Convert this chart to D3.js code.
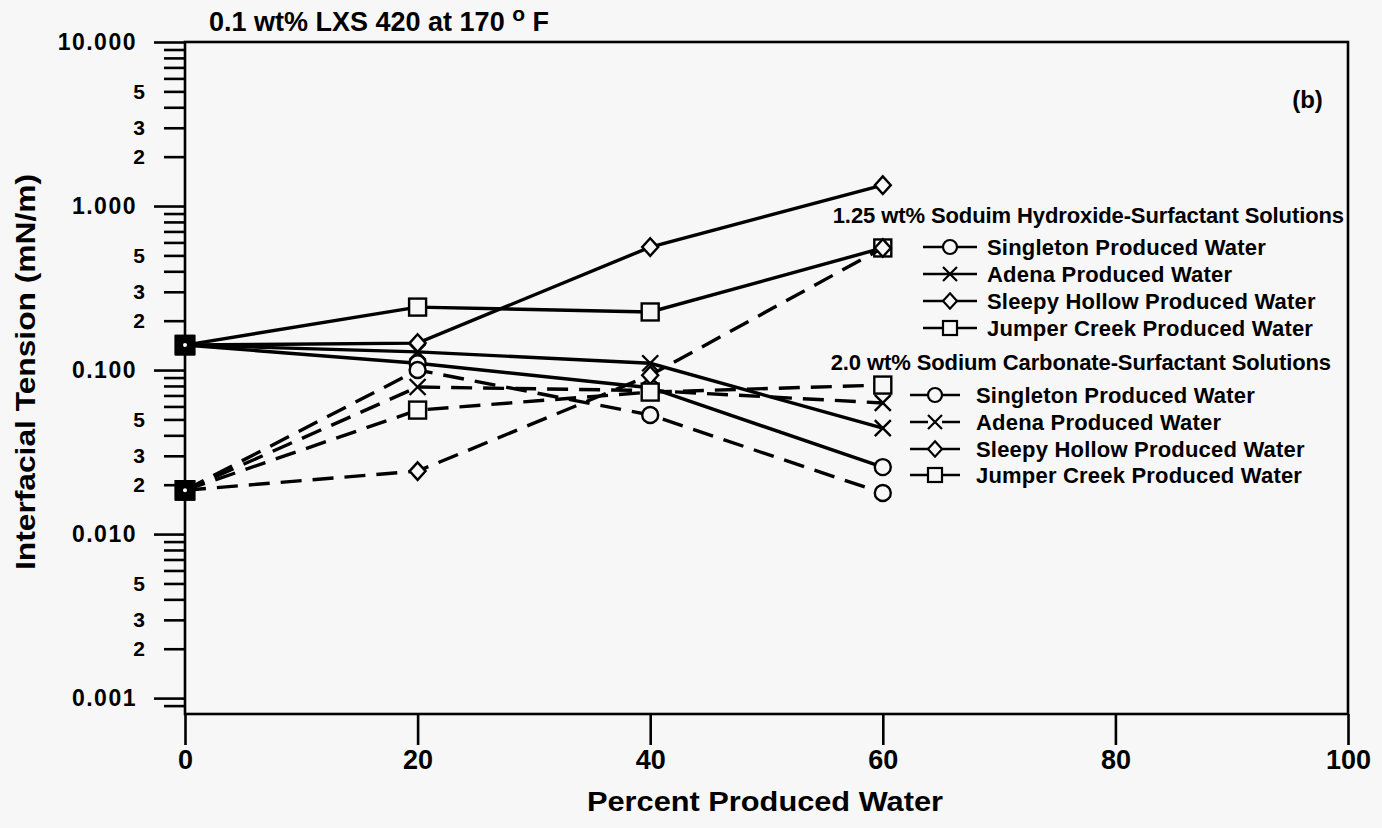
<!DOCTYPE html>
<html>
<head>
<meta charset="utf-8">
<script src="https://cdn.jsdelivr.net/npm/d3@7"></script>
<style>
  html, body { margin: 0; padding: 0; background: #f7f7f7; }
  svg { display: block; font-family: "Liberation Sans", Arial, sans-serif; }
</style>
</head>
<body>
<div id="chart"></div>
<script>
// percent produced water (x)
const percent = [0, 20, 40, 60];

// 1.25 wt% NaOH-surfactant solutions (solid lines)
const singletonNaOH = [0.142, 0.110, 0.078, 0.0256];
const adenaNaOH     = [0.142, 0.129, 0.110, 0.0443];
const sleepyNaOH    = [0.142, 0.146, 0.562, 1.34];
const jumperNaOH    = [0.142, 0.242, 0.226, 0.555];

// 2.0 wt% Na2CO3-surfactant solutions (dashed lines)
const singletonCarb = [0.0185, 0.100, 0.0532, 0.0178];
const adenaCarb     = [0.0185, 0.0788, 0.075, 0.063];
const sleepyCarb    = [0.0185, 0.0242, 0.093, 0.555];
const jumperCarb    = [0.0185, 0.057, 0.0734, 0.081];

const waterNames = ["Singleton Produced Water", "Adena Produced Water",
                    "Sleepy Hollow Produced Water", "Jumper Creek Produced Water"];
const markerKinds = ["circle", "cross", "diamond", "square"];
const groupTitles = ["1.25 wt% Soduim Hydroxide-Surfactant Solutions",
                     "2.0 wt% Sodium Carbonate-Surfactant Solutions"];

const xTicks = [0, 20, 40, 60, 80, 100];
const yMajor = [10, 1, 0.1, 0.01, 0.001];
const yMinorLabelled = [5, 3, 2];

const width = 1382, height = 828;
const margin = ({top: 42, right: 34, bottom: 114, left: 185});

const groups = [
  {title: groupTitles[0], dashed: false,
   series: [singletonNaOH, adenaNaOH, sleepyNaOH, jumperNaOH]},
  {title: groupTitles[1], dashed: true,
   series: [singletonCarb, adenaCarb, sleepyCarb, jumperCarb]}
];

const svg = d3.select("#chart").append("svg")
    .attr("width", width)
    .attr("height", height);

const x = d3.scaleLinear()
    .domain([0, 100])
    .range([margin.left, width - margin.right]);

const y = d3.scaleLog()
    .domain([0.0008, 10])
    .range([height - margin.bottom, margin.top]);

const ink = "#000";

// minor ticks of every decade
const minor = [];
yMajor.slice(1).forEach(d => {
  for (let k = 2; k <= 9; k++) minor.push(d * k);
});
minor.push(0.0009);

function styleAxis(g) {
  g.select(".domain").remove();
  g.selectAll(".tick line").attr("stroke", ink).attr("stroke-width", 2.6);
  g.selectAll("text").attr("fill", ink).attr("font-weight", "bold");
}

// y axis: minor ticks with 5/3/2 labels
svg.append("g")
    .attr("transform", `translate(${margin.left},0)`)
    .call(d3.axisLeft(y).tickValues(minor).tickSize(21).tickPadding(19)
      .tickFormat(d => {
        const m = Math.round(d / Math.pow(10, Math.floor(Math.log10(d) + 1e-9)));
        return yMinorLabelled.includes(m) && d > 0.00095 ? m : "";
      }))
    .call(styleAxis)
    .call(g => g.selectAll("text").attr("font-size", 21));

// y axis: major ticks
svg.append("g")
    .attr("transform", `translate(${margin.left},0)`)
    .call(d3.axisLeft(y).tickValues(yMajor).tickSize(31).tickPadding(17)
      .tickFormat(d3.format(".3f")))
    .call(styleAxis)
    .call(g => g.selectAll("text").attr("font-size", 23).attr("letter-spacing", 1.5));

// x axis
svg.append("g")
    .attr("transform", `translate(0,${height - margin.bottom})`)
    .call(d3.axisBottom(x).tickValues(xTicks).tickSize(31).tickPadding(5))
    .call(styleAxis)
    .call(g => g.selectAll("text").attr("font-size", 27));

// frame
svg.append("rect")
    .attr("x", margin.left)
    .attr("y", margin.top)
    .attr("width", width - margin.right - margin.left)
    .attr("height", height - margin.bottom - margin.top)
    .attr("fill", "none")
    .attr("stroke", ink)
    .attr("stroke-width", 2.6);

// axis titles
svg.append("text")
    .attr("transform", `translate(35,372) rotate(-90)`)
    .attr("text-anchor", "middle")
    .attr("font-size", 27)
    .attr("font-weight", "bold")
    .attr("textLength", 396)
    .attr("lengthAdjust", "spacingAndGlyphs")
    .attr("fill", ink)
    .text("Interfacial Tension (mN/m)");

svg.append("text")
    .attr("x", 765)
    .attr("y", 811)
    .attr("text-anchor", "middle")
    .attr("font-size", 27)
    .attr("font-weight", "bold")
    .attr("textLength", 356)
    .attr("lengthAdjust", "spacingAndGlyphs")
    .attr("fill", ink)
    .text("Percent Produced Water");

svg.append("text")
    .attr("x", 209)
    .attr("y", 31)
    .attr("font-size", 27)
    .attr("font-weight", "bold")
    .attr("fill", ink)
    .text("0.1 wt% LXS 420 at 170 ")
  .append("tspan")
    .attr("dy", -10)
    .attr("font-size", 21)
    .text("o")
  .clone()
    .attr("dy", 10)
    .attr("font-size", 27)
    .text(" F");

svg.append("text")
    .attr("x", x(95.2))
    .attr("y", 108)
    .attr("font-size", 24)
    .attr("font-weight", "bold")
    .attr("fill", ink)
    .text("(b)");

// markers
function drawMarker(sel, kind, r) {
  if (kind === "circle") {
    sel.append("circle").attr("r", r);
  } else if (kind === "cross") {
    sel.append("path").attr("d", `M${-r},${-r}L${r},${r}M${-r},${r}L${r},${-r}`);
  } else if (kind === "diamond") {
    sel.append("path").attr("d", `M0,${-r * 1.1}L${r},0L0,${r * 1.1}L${-r},0Z`);
  } else {
    sel.append("rect").attr("x", -r).attr("y", -r).attr("width", 2 * r).attr("height", 2 * r);
  }
}

const line = d3.line()
    .x((d, i) => x(percent[i]))
    .y(d => y(d));

groups.forEach(grp => {
  const g = svg.append("g");
  grp.series.forEach((values, si) => {
    g.append("path")
        .datum(values)
        .attr("d", line)
        .attr("fill", "none")
        .attr("stroke", ink)
        .attr("stroke-width", 3.4)
        .attr("stroke-dasharray", grp.dashed ? "21,11" : null);

    values.forEach((v, i) => {
      const m = g.append("g")
          .attr("transform", `translate(${x(percent[i])},${y(v)})`)
          .attr("fill", "#f7f7f7")
          .attr("stroke", ink)
          .attr("stroke-width", 2.4);
      if (i === 0) {
        // all series start from the same point: overlapping markers read as a solid square
        m.append("rect").attr("x", -9).attr("y", -9).attr("width", 18).attr("height", 18)
            .attr("fill", ink);
        m.append("circle").attr("r", 2).attr("fill", "#fff").attr("stroke", "none");
      } else {
        drawMarker(m, markerKinds[si], si === 3 ? 8.5 : 8);
      }
    });
  });
});

// legend
const legendLayout = [
  {titleX: 1344, titleY: 223, rowY: [247, 274, 301, 328], lineX0: 923, lineX1: 977, textX: 987},
  {titleX: 1331, titleY: 370, rowY: [395, 422, 449, 475], lineX0: 910, lineX1: 960, textX: 976}
];

groups.forEach((grp, gi) => {
  const L = legendLayout[gi];
  const lg = svg.append("g");
  lg.append("text")
      .attr("x", L.titleX)
      .attr("y", L.titleY)
      .attr("text-anchor", "end")
      .attr("font-size", 22)
      .attr("font-weight", "bold")
      .attr("letter-spacing", -0.1)
      .attr("fill", ink)
      .text(grp.title);
  waterNames.forEach((name, si) => {
    const cy = L.rowY[si];
    const cx = (L.lineX0 + L.lineX1) / 2;
    lg.append("line")
        .attr("x1", L.lineX0).attr("x2", L.lineX1)
        .attr("y1", cy).attr("y2", cy)
        .attr("stroke", ink)
        .attr("stroke-width", 2.6)
        .attr("stroke-dasharray", grp.dashed ? "18,14,18" : null);
    const m = lg.append("g")
        .attr("transform", `translate(${cx},${cy})`)
        .attr("fill", "#f7f7f7")
        .attr("stroke", ink)
        .attr("stroke-width", 2.2);
    drawMarker(m, markerKinds[si], 7);
    lg.append("text")
        .attr("x", L.textX)
        .attr("y", cy + 8)
        .attr("font-size", 22)
        .attr("font-weight", "bold")
        .attr("letter-spacing", 0.2)
        .attr("fill", ink)
        .text(name);
  });
});
</script>
</body>
</html>
